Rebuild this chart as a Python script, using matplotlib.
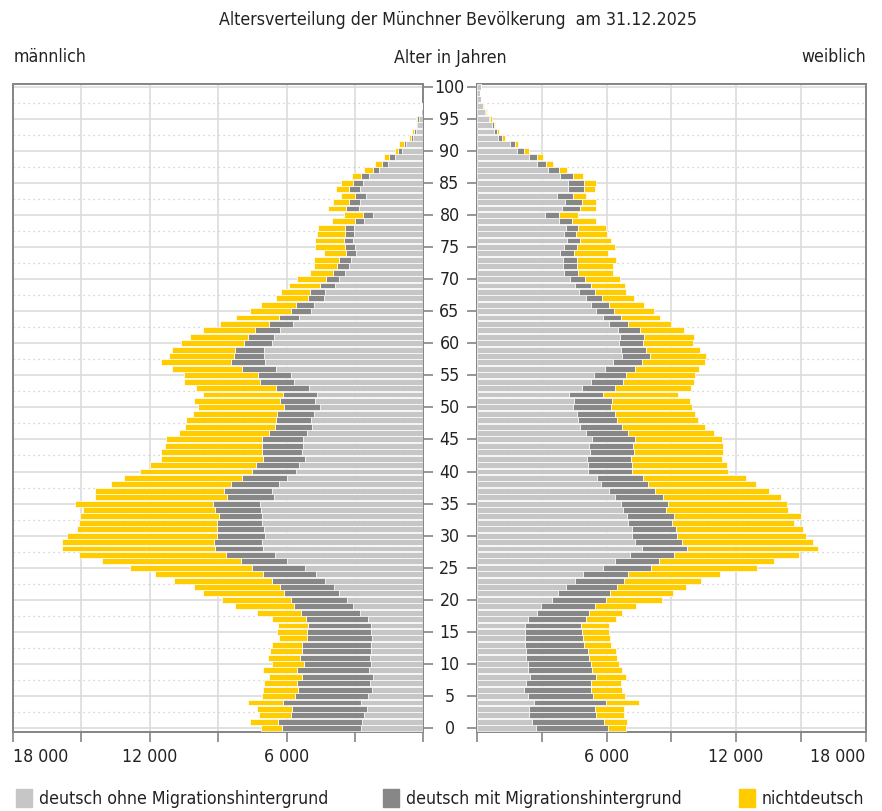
import numpy as np
import matplotlib
matplotlib.use("Agg")
import matplotlib.pyplot as plt
from matplotlib import transforms, font_manager
from matplotlib.patches import Rectangle

# schmale Schrift suchen, sonst DejaVu
cond = [f for f in font_manager.fontManager.ttflist
        if (f.stretch in ('condensed', 'semi-condensed', 'extra-condensed')
            or 'Narrow' in f.name or 'Condensed' in f.name)
        and f.style == 'normal' and f.weight in (400, 'normal', 'regular')]
pref = ['Liberation Sans Narrow', 'DejaVu Sans', 'Roboto Condensed',
        'Open Sans Condensed', 'Noto Sans']
cond.sort(key=lambda f: pref.index(f.name) if f.name in pref else 99)
if cond:
    plt.rcParams['font.family'] = [cond[0].name, 'DejaVu Sans']
    plt.rcParams['font.stretch'] = cond[0].stretch
else:
    plt.rcParams['font.family'] = ['DejaVu Sans']

ages = np.arange(0, 101)

# maenner, je Altersjahr 0..100
m_ohne = [2735, 2705, 2620, 2485, 2735, 2445, 2280, 2355, 2225, 2400,
          2310, 2355, 2310, 2310, 2270, 2310, 2310, 2445, 2795, 3085,
          3365, 3715, 3935, 4330, 4725, 5210, 6000, 6525, 7035, 7095,
          6965, 7010, 7095, 7065, 7110, 7155, 6555, 6630, 6350, 5985,
          5605, 5440, 5195, 5325, 5265, 5295, 5105, 4870, 4915, 4785,
          4535, 4755, 4665, 5005, 5690, 5810, 6450, 6965, 7010, 7010,
          6640, 6555, 6290, 5720, 5470, 4945, 4785, 4345, 4315, 3860,
          3705, 3425, 3265, 3160, 2940, 3015, 3070, 3060, 3045, 2615,
          2205, 2820, 2765, 2500, 2780, 2660, 2410, 1940, 1575, 1265,
          940, 765, 440, 340, 265, 190, 90, 60, 40, 25,
          20]
m_mit = [3455, 3660, 3190, 3275, 3410, 3175, 3235, 3175, 3115, 3160,
         2910, 3060, 3030, 3015, 2825, 2810, 2735, 2690, 2560, 2605,
         2460, 2385, 2355, 2325, 2325, 2325, 2020, 2135, 2120, 2105,
         2080, 2035, 1975, 1900, 2050, 2080, 2050, 2120, 2080, 1990,
         1900, 1885, 1845, 1740, 1800, 1770, 1670, 1640, 1565, 1655,
         1580, 1550, 1505, 1480, 1465, 1450, 1490, 1465, 1285, 1260,
         1245, 1155, 1100, 1055, 865, 865, 790, 700, 660, 675,
         590, 545, 530, 560, 440, 425, 425, 395, 380, 370,
         440, 600, 515, 485, 470, 425, 310, 295, 265, 235,
         160, 90, 90, 90, 45, 75, 10, 5, 0, 0,
         0]
m_nicht = [920, 1245, 1390, 1520, 1535, 1465, 1505, 1480, 1435, 1480,
           1435, 1405, 1375, 1315, 1260, 1315, 1345, 1505, 1930, 2575,
           3030, 3570, 3760, 4285, 4740, 5355, 6085, 6450, 6715, 6670,
           6570, 6130, 6030, 6100, 5780, 6040, 5795, 5645, 5280, 5150,
           4930, 4665, 4460, 4450, 4285, 4245, 3965, 3935, 3935, 3685,
           3790, 3760, 3510, 3495, 3365, 3260, 3085, 3070, 2880, 2765,
           2765, 2545, 2280, 2150, 1900, 1800, 1565, 1420, 1275, 1360,
           1265, 1015, 1000, 1075, 970, 1325, 1250, 1220, 1220, 1015,
           840, 750, 690, 620, 575, 545, 400, 355, 295, 220,
           145, 205, 90, 60, 30, 60, 20, 20, 0, 0,
           0]

# frauen
w_ohne = [2735, 2515, 2410, 2410, 2625, 2360, 2175, 2240, 2440, 2330,
          2345, 2240, 2270, 2190, 2210, 2210, 2190, 2360, 2780, 2965,
          3445, 3735, 4105, 4540, 4910, 5820, 6390, 7085, 7640, 7335,
          7195, 7150, 6995, 6950, 6745, 6660, 6365, 6120, 5735, 5570,
          5135, 5120, 5090, 5215, 5185, 5320, 5045, 4770, 4675, 4615,
          4460, 4505, 4260, 4845, 5290, 5415, 5920, 6290, 6705, 6675,
          6550, 6630, 6520, 6090, 5830, 5505, 5275, 5030, 4735, 4535,
          4320, 4030, 3970, 3985, 3830, 4015, 4140, 4015, 4120, 3800,
          3140, 3905, 4060, 3690, 4215, 4215, 3815, 3290, 2770, 2415,
          1860, 1525, 970, 785, 680, 525, 355, 245, 155, 105,
          155]
w_mit = [3305, 3380, 3075, 3055, 3365, 3025, 3105, 3010, 3055, 2980,
         2905, 2935, 2885, 2750, 2670, 2625, 2640, 2700, 2410, 2470,
         2500, 2395, 2395, 2240, 2100, 2240, 2040, 2055, 2070, 2175,
         2055, 2070, 2055, 2160, 2020, 2170, 2230, 2105, 2170, 2120,
         2060, 2075, 2045, 2060, 2030, 1985, 1955, 1955, 1815, 1785,
         1755, 1720, 1555, 1540, 1460, 1475, 1400, 1355, 1305, 1170,
         1140, 1090, 1030, 905, 845, 845, 815, 740, 740, 740,
         690, 660, 675, 660, 645, 630, 615, 570, 540, 585,
         630, 845, 785, 740, 710, 710, 600, 490, 400, 340,
         310, 230, 170, 110, 75, 60, 40, 20, 0, 0,
         0]
w_nicht = [835, 1065, 1295, 1360, 1500, 1450, 1435, 1435, 1420, 1420,
           1330, 1295, 1265, 1280, 1250, 1265, 1295, 1360, 1515, 1945,
           2610, 2950, 3165, 3615, 4230, 4925, 5310, 5790, 6070, 6050,
           6005, 5865, 5635, 5880, 5635, 5520, 5505, 5290, 5015, 4750,
           4445, 4370, 4200, 4140, 4200, 4060, 3985, 3845, 3740, 3690,
           3740, 3615, 3505, 3540, 3290, 3200, 2955, 2905, 2615, 2475,
           2320, 2340, 2030, 1985, 1815, 1860, 1660, 1475, 1415, 1570,
           1585, 1615, 1660, 1785, 1585, 1755, 1460, 1415, 1325, 1110,
           910, 770, 660, 630, 540, 570, 475, 400, 340, 275,
           230, 140, 125, 90, 75, 75, 50, 30, 0, 0,
           0]

groups = ['deutsch ohne Migrationshintergrund',
          'deutsch mit Migrationshintergrund',
          'nichtdeutsch']
colors = ['#c6c6c6', '#878787', '#ffcc00']

xticks = np.arange(0, 18001, 3000)
xlabels = ['', '', '6 000', '', '12 000', '', '18 000']

title = 'Altersverteilung der Münchner Bevölkerung  am 31.12.2025'

spine_col = '#858585'
grid_col = '#dcdcdc'
txt_col = '#222222'

W, H = 882, 812
fig = plt.figure(figsize=(W / 100, H / 100), dpi=100)

# Schriftgroesse an Titelbreite (ca. 480 px) anpassen
probe = fig.text(0, 0, title, fontsize=15)
tw = probe.get_window_extent(renderer=fig.canvas.get_renderer()).width
probe.remove()
fs = min(15.5, 15 * 480 / tw)

ax_l = fig.add_axes([13 / W, (H - 733) / H, 410.5 / W, 648 / H])
ax_r = fig.add_axes([477.3 / W, (H - 733) / H, 388.2 / W, 648 / H])


def stack(ax, series):
    left = np.zeros(len(ages))
    for vals, c in zip(series, colors):
        vals = np.array(vals, dtype=float)
        ax.barh(ages, vals, left=left, height=0.92, color=c,
                edgecolor='white', linewidth=0.5, zorder=3)
        left += vals


stack(ax_l, [m_ohne, m_mit, m_nicht])
stack(ax_r, [w_ohne, w_mit, w_nicht])

for ax in (ax_l, ax_r):
    ax.set_ylim(-0.6, 100.4)
    ax.set_xticks(xticks)
    ax.set_xticklabels(xlabels, fontsize=fs, color=txt_col)
    ax.set_yticks(np.arange(0, 101, 5))
    ax.set_yticks(np.arange(2.5, 100, 5), minor=True)
    ax.set_yticklabels([])
    ax.tick_params(axis='y', which='minor', length=0)
    ax.tick_params(axis='x', direction='out', length=7, width=1.2,
                   color=spine_col, pad=4)
    ax.grid(axis='x', color=grid_col, lw=1.2, zorder=0)
    ax.grid(axis='y', which='major', color=grid_col, lw=1.2, zorder=0)
    ax.grid(axis='y', which='minor', color='#c8c8c8', lw=0.9,
            linestyle=(0, (1, 3)), zorder=0)
    ax.set_axisbelow(True)
    for s in ax.spines.values():
        s.set_color(spine_col)
        s.set_linewidth(1.4)

ax_l.set_xlim(18000, 0)
ax_r.set_xlim(0, 18000)

ax_l.yaxis.tick_right()
ax_l.tick_params(axis='y', which='major', direction='out', length=7,
                 width=1.2, color=spine_col, labelright=False)
ax_r.yaxis.tick_left()
ax_r.tick_params(axis='y', which='major', direction='out', length=7,
                 width=1.2, color=spine_col, labelleft=False)

# Randlabels nach innen schieben
ax_l.get_xticklabels()[-1].set_horizontalalignment('left')
ax_r.get_xticklabels()[-1].set_horizontalalignment('right')

# Alterslabels in der Mitte
trans = transforms.blended_transform_factory(fig.transFigure, ax_r.transData)
for a in range(0, 101, 5):
    fig.text(449.5 / W, a, str(a), transform=trans, ha='center',
             va='center', fontsize=fs, color=txt_col)

fig.text(458 / W, 1 - 20 / H, title,
         ha='center', va='center', fontsize=fs, color=txt_col)
fig.text(14 / W, 1 - 57 / H, 'männlich', ha='left', va='center',
         fontsize=fs, color=txt_col)
fig.text(866 / W, 1 - 57 / H, 'weiblich', ha='right', va='center',
         fontsize=fs, color=txt_col)
fig.text(450 / W, 1 - 58 / H, 'Alter in Jahren', ha='center', va='center',
         fontsize=fs, color=txt_col)

# Legende
leg_x = [16, 383, 739]
for x0, c, g in zip(leg_x, colors, groups):
    fig.patches.append(Rectangle((x0 / W, (H - 808) / H), 16 / W, 18 / H,
                                 transform=fig.transFigure, color=c))
    fig.text((x0 + 23) / W, (H - 799) / H, g, ha='left', va='center',
             fontsize=fs, color=txt_col)

fig.savefig('out.png', dpi=100)
